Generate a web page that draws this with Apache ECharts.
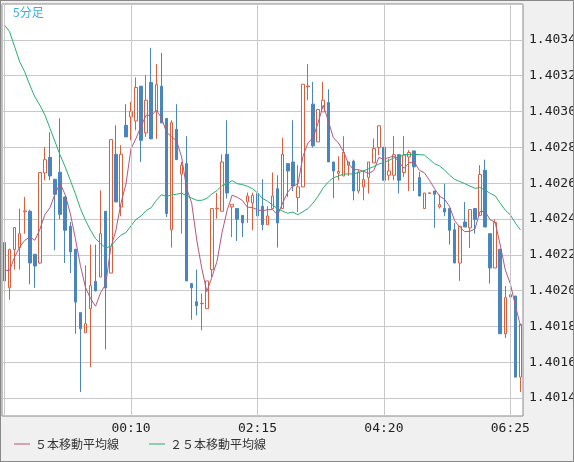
<!DOCTYPE html>
<html><head><meta charset="utf-8">
<script src="https://cdn.jsdelivr.net/npm/echarts@6/dist/echarts.min.js"></script>
<style>html,body{margin:0;padding:0;background:#f0f0f0}#c{width:574px;height:462px;box-sizing:border-box;border:1px solid #888}</style>
</head><body><div id="c"></div>
<script>
// candles in units of 0.0001 above 1.4000: [open, close, low, high]
const ohlc = [
[22.68,20.54,19.87,23.55],[20.16,22.29,19.49,22.34],[22.29,23.52,21.17,23.55],[22.40,23.18,21.17,24.58],[24.40,24.45,23.18,25.23],
[24.43,21.54,20.35,24.52],[22.03,21.37,20.16,22.03],[21.54,26.59,21.50,26.59],[26.57,27.31,26.16,28.02],[27.44,26.40,26.16,28.84],
[26.22,25.38,22.25,26.22],[26.61,24.26,23.98,29.62],[25.23,23.37,21.54,25.23],[23.59,22.16,20.98,23.83],[22.31,19.36,17.59,22.31],
[18.77,17.87,14.34,18.77],[17.65,18.15,17.65,21.41],[18.99,20.28,15.73,22.57],[20.52,19.98,19.98,22.57],[20.76,23.18,20.76,25.60],
[24.43,20.15,16.72,24.43],[20.98,28.43,20.98,28.43],[27.61,24.95,24.95,29.23],[24.67,27.61,24.15,28.12],[29.23,28.58,28.58,30.41],
[29.70,30.01,28.39,30.54],[29.47,31.34,28.95,31.90],[31.41,28.39,27.18,31.41],[28.80,30.63,28.58,32.03],[31.62,28.47,28.47,33.55],
[29.98,31.50,28.47,32.64],[31.41,29.36,29.36,33.27],[29.61,24.30,24.11,29.61],[23.40,29.38,22.40,29.51],[29.01,27.31,27.31,30.41],
[26.50,27.00,23.18,27.18],[27.09,20.54,20.54,28.62],[20.39,20.16,18.38,20.39],[19.38,19.16,18.62,21.17],[19.27,19.29,17.78,19.83],
[18.99,20.54,18.99,20.54],[21.17,24.58,20.76,24.58],[24.56,24.60,24.02,25.45],[24.43,27.18,24.43,27.61],[27.61,25.45,25.14,29.51],
[24.67,24.82,22.99,24.82],[24.58,23.98,22.77,24.58],[24.20,23.78,22.99,24.20],[24.95,25.28,23.78,25.47],[24.89,25.32,23.37,25.47],
[25.41,24.17,24.17,26.22],[24.71,23.68,23.37,26.22],[23.68,24.17,23.68,24.71],[24.58,25.28,24.58,26.59],[25.69,23.78,22.40,26.44],
[24.58,27.61,24.58,28.53],[27.09,26.68,25.23,27.09],[27.18,25.84,25.56,29.51],[25.19,25.79,24.39,27.00],[25.79,31.52,25.79,31.52],
[31.38,31.42,30.63,32.64],[30.41,28.08,27.99,31.65],[28.30,30.11,28.30,30.11],[29.98,30.63,29.98,31.65],[30.50,27.18,27.18,31.24],
[27.18,26.68,25.17,27.18],[26.55,26.65,26.16,27.50],[26.40,27.71,26.40,28.62],[27.00,27.18,26.40,27.18],[27.22,25.56,25.04,27.31],
[25.56,26.63,25.42,26.72],[25.79,26.20,25.04,26.72],[26.31,27.18,25.42,27.18],[27.13,27.93,27.13,28.49],[27.99,29.20,27.56,29.20],
[28.00,26.16,26.16,28.00],[26.44,26.68,26.16,27.37],[26.44,27.59,26.16,28.62],[27.59,26.16,25.42,27.59],[26.59,27.56,26.35,28.62],
[27.46,27.71,25.56,27.84],[27.80,26.91,25.56,27.80],[26.31,25.28,25.28,26.63],[24.58,25.45,24.58,25.45],[25.42,25.46,25.42,25.46],
[25.56,25.38,23.50,25.56],[24.67,24.80,24.58,25.36],[24.58,24.39,24.15,25.97],[24.58,23.37,22.57,24.58],[23.40,21.54,21.54,23.78],
[21.54,23.59,20.54,23.59],[23.83,23.55,23.55,24.95],[23.50,24.52,22.38,24.52],[24.58,23.98,23.18,24.58],[24.20,26.48,24.20,27.00],
[26.72,23.55,23.55,27.31],[23.18,21.26,20.39,23.18],[21.26,23.80,21.26,23.98],[22.31,17.59,17.59,22.31],[17.59,19.61,17.35,20.26],
[19.77,19.64,19.64,19.77],[19.70,15.17,15.17,19.70],[15.17,18.12,14.34,18.15]
];
const ma5Head = [21.13,21.13,21.88,22.44];
const ma25Head = [34.82,34.45,33.61,32.77,32.21,31.47,30.81,30.35,29.79,29.05,28.30,27.56,26.90,26.16,25.41,24.58,23.93,23.37,22.90,22.62,22.38,22.47,22.81,23.09];
const startTime = [22,5];
const labelTimes = ['00:10','02:15','04:20','06:25'];
const yLabels = ['1.4014','1.4016','1.4018','1.4020','1.4022','1.4024','1.4026','1.4028','1.4030','1.4032','1.4034'];

const toP = v => +(1.4 + v/10000).toFixed(6);
const cats = ohlc.map((_,i)=>{let m=startTime[0]*60+startTime[1]+i*5;m%=1440;return String(Math.floor(m/60)).padStart(2,'0')+':'+String(m%60).padStart(2,'0');});
const closes = ohlc.map(d=>d[1]);
function ma(n, head){return closes.map((_,i)=>{if(i<n-1)return toP(head[i]);let s=0;for(let k=i-n+1;k<=i;k++)s+=closes[k];return toP(s/n);});}
const candle = ohlc.map(d=>d.map(toP));
const chart = echarts.init(document.getElementById('c'));
const mono = 'DejaVu Sans Mono';
chart.setOption({
  backgroundColor:'#f0f0f0', animation:false,
  grid:{left:1,right:50,top:3,bottom:45,containLabel:false,outerBoundsMode:'none',show:true,backgroundColor:'#fff',borderColor:'#888',borderWidth:1},
  xAxis:{type:'category',data:cats,boundaryGap:true,axisLine:{show:false},axisTick:{show:false},
    axisLabel:{interval:(i,v)=>labelTimes.includes(v),color:'#222',fontFamily:mono,fontSize:13,margin:6},splitLine:{show:false}},
  yAxis:{type:'value',position:'right',min:1.4013,max:1.4036,interval:0.0001,
    axisLine:{show:false},axisTick:{show:false},
    axisLabel:{color:'#222',fontFamily:mono,fontSize:13,margin:6,formatter:v=>{const s=v.toFixed(4);return yLabels.includes(s)?s:'';}},
    splitLine:{show:true,lineStyle:{color:['rgba(0,0,0,0)','#c8c8c8'],width:1}}},
  legend:{bottom:6,left:8,itemGap:30,itemWidth:16,itemHeight:1,textStyle:{color:'#333',fontSize:12,fontFamily:'Noto Sans CJK JP'},
    data:[{name:'５本移動平均線',icon:'rect'},{name:'２５本移動平均線',icon:'rect'}]},
  graphic:[{type:'text',left:12,top:5,style:{text:'5分足',fill:'#3aace0',font:'12px "Noto Sans CJK JP"'}}],
  series:[
    {type:'candlestick',data:candle,barWidth:3,
      itemStyle:{color:'#ffffff',color0:'#4a86bd',borderColor:'#d9603f',borderColor0:'#4a86bd',borderWidth:1},
      markLine:{silent:true,symbol:'none',label:{show:false},lineStyle:{color:'#c8c8c8',type:'solid',width:1},
        data:['22:05'].concat(labelTimes).map(t=>({xAxis:t}))}},
    {name:'５本移動平均線',type:'line',data:ma(5,ma5Head),showSymbol:false,lineStyle:{color:'#b4577e',width:1},itemStyle:{color:'#b4577e'}},
    {name:'２５本移動平均線',type:'line',data:ma(25,ma25Head),showSymbol:false,lineStyle:{color:'#27b06e',width:1},itemStyle:{color:'#27b06e'}}
  ]
});
</script></body></html>
